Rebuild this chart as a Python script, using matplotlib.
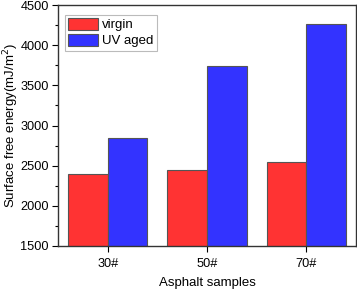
import numpy as np
import matplotlib
matplotlib.use("Agg")
import matplotlib.pyplot as plt
from matplotlib.ticker import MultipleLocator

plt.rcParams['font.family'] = ['Liberation Sans', 'DejaVu Sans']

samples = ['30#', '50#', '70#']
virgin = [2400, 2445, 2550]
uv_aged = [2850, 3745, 4260]

fig = plt.figure(figsize=(3.57, 2.93), dpi=100)
ax = fig.add_axes([58 / 357, 1 - 246 / 293, (356 - 58) / 357, (246 - 5) / 293])

x = np.arange(1, len(samples) + 1)
w = 0.4
ax.bar(x - w / 2, virgin, w, color='#FF3333', edgecolor='#555555', lw=0.8,
       label='virgin')
ax.bar(x + w / 2, uv_aged, w, color='#3333FF', edgecolor='#555555', lw=0.8,
       label='UV aged')

ax.set_xlim(0.5, 3.5)
ax.set_ylim(1500, 4500)
ax.set_xticks(x)
ax.set_xticklabels(samples)
ax.yaxis.set_major_locator(MultipleLocator(500))
ax.yaxis.set_minor_locator(MultipleLocator(250))
ax.tick_params(axis='both', which='major', length=4.5, width=0.8,
               labelsize=9.2, pad=2)
ax.tick_params(axis='x', which='major', pad=4)
ax.tick_params(axis='y', which='minor', length=2.5, width=0.8)
for s in ax.spines.values():
    s.set_linewidth(1.0)
    s.set_color('#333333')

ax.set_xlabel('Asphalt samples', fontsize=9.5, labelpad=5)
ax.set_ylabel('Surface free energy(mJ/m$^2$)', fontsize=9.5)
ax.yaxis.set_label_coords(-0.125, 0.5)

leg = ax.legend(loc='upper left', bbox_to_anchor=(0.022, 0.96), fontsize=9.5,
                frameon=True, fancybox=False, edgecolor='#aaaaaa',
                handlelength=2.3, handleheight=1.0, borderaxespad=0,
                borderpad=0.25, labelspacing=0.2, handletextpad=0.3)
leg.get_frame().set_linewidth(0.8)

fig.savefig('out.png', dpi=100)
